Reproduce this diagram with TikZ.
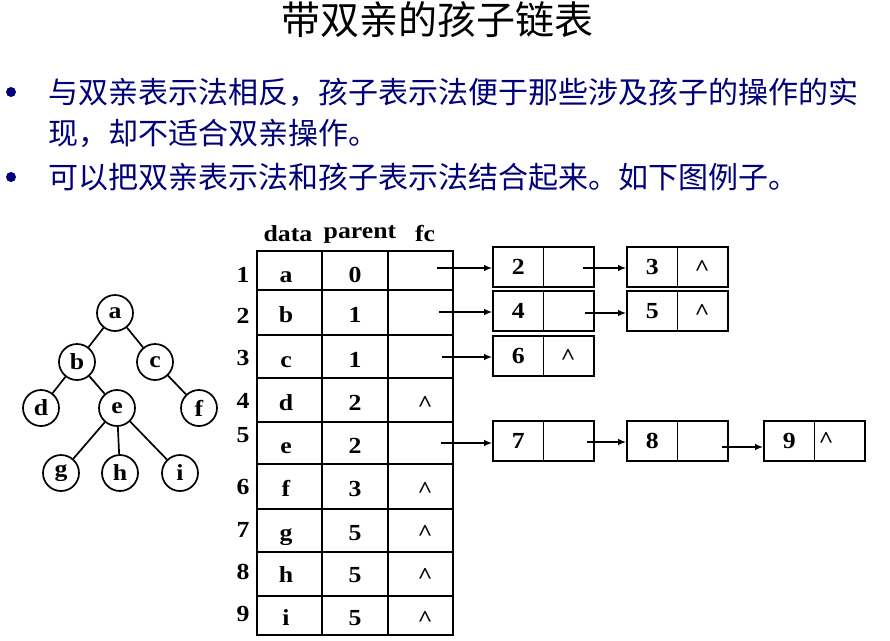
\documentclass[tikz,border=0pt]{standalone}
\usepackage{fontspec}
\setmainfont{Liberation Serif}
\newfontfamily\latf[FakeStretch=1.12]{Liberation Serif}
\newfontfamily\cjk{Noto Sans CJK SC}
\usetikzlibrary{arrows.meta}
\definecolor{navy}{RGB}{0,0,120}
\begin{document}
\begin{tikzpicture}[x=1pt,y=-1pt,
  lat/.style={font=\latf\fontsize{23}{25}\selectfont\bfseries, inner sep=0pt},
  cell/.style={draw, line width=1.8pt, inner sep=0pt},
  tnode/.style={circle, draw, line width=1.7pt, minimum size=36pt, inner sep=0pt, font=\latf\fontsize{23}{25}\selectfont\bfseries},
  tedge/.style={line width=1.7pt},
  lbox/.style={draw, line width=1.8pt, minimum width=50.5pt, minimum height=40pt, inner sep=0pt, font=\latf\fontsize{23}{25}\selectfont\bfseries},
  ptr/.style={line width=1.4pt, -{Latex[length=8pt,width=6.5pt]}},
  cjktext/.style={font=\cjk\fontsize{30}{32}\selectfont, text=navy, inner sep=0pt, anchor=west},
  bullet/.style={circle, fill=navy, minimum size=10pt, inner sep=0pt}
]
\useasboundingbox (0,0) rectangle (890,640);

% title
\node[font=\cjk\fontsize{39}{41}\selectfont, inner sep=0pt] (title) at (437,20) {带双亲的孩子链表};

% bullets
\node[bullet] (b1) at (11,92) {};
\node[cjktext] (l1) at (48,92) {与双亲表示法相反，孩子表示法便于那些涉及孩子的操作的实};
\node[cjktext] (l2) at (48,133) {现，却不适合双亲操作。};
\node[bullet] (b2) at (11,177) {};
\node[cjktext] (l3) at (48,177) {可以把双亲表示法和孩子表示法结合起来。如下图例子。};

% tree
\node[tnode] (ta) at (115,313) {a};
\node[tnode] (tb) at (77,362) {b};
\node[tnode] (tc) at (155,362) {c};
\node[tnode] (td) at (41,408) {d};
\node[tnode] (te) at (117,408) {e};
\node[tnode] (tf) at (199,408) {f};
\node[tnode] (tg) at (61,473) {g};
\node[tnode] (th) at (120,473) {h};
\node[tnode] (ti) at (180,473) {i};
\draw[tedge] (ta) -- (tb);
\draw[tedge] (ta) -- (tc);
\draw[tedge] (tb) -- (td);
\draw[tedge] (tb) -- (te);
\draw[tedge] (tc) -- (tf);
\draw[tedge] (te) -- (tg);
\draw[tedge] (te) -- (th);
\draw[tedge] (te) -- (ti);

% table header
\node[lat, anchor=base] (hdata) at (288,241) {data};
\node[lat, anchor=base] (hparent) at (360,238) {parent};
\node[lat, anchor=base] (hfc) at (425,241) {fc};

% table rows
\foreach \r/\ya/\yb/\bl/\nb/\dd/\pp in {
1/251/290/282/282/a/0,
2/290/335/322/323/b/1,
3/335/378/367/365/c/1,
4/378/422/410/408/d/2,
5/422/464/453/442/e/2,
6/464/509/496/494/f/3,
7/509/552/540/537/g/5,
8/552/596/582/579/h/5,
9/596/635/625/621/i/5}{
  \node[cell, minimum width=65pt, minimum height={(\yb-\ya)*1pt}] (cd\r) at (289.5,{(\ya+\yb)/2}) {};
  \node[cell, minimum width=66pt, minimum height={(\yb-\ya)*1pt}] (cp\r) at (355,{(\ya+\yb)/2}) {};
  \node[cell, minimum width=65pt, minimum height={(\yb-\ya)*1pt}] (cf\r) at (420.5,{(\ya+\yb)/2}) {};
  \node[lat, anchor=base] (n\r) at (243,\nb) {\r};
  \node[lat, anchor=base] (d\r) at (286,\bl) {\dd};
  \node[lat, anchor=base] (p\r) at (355,\bl) {\pp};
}
\foreach \r/\bl in {4/411,6/497,7/540,8/583,9/626}{
  \node[lat, anchor=base] (f\r) at (425,\bl) {\textasciicircum};
}

% linked list nodes
\node[lbox] (n2a) at (518.25,267) {2};
\node[lbox] (n2b) at (568.75,267) {};
\node[lbox] (n3a) at (652.25,267) {3};
\node[lbox] (n3b) at (702.75,267) {};
\node[lat, anchor=base] (n3c) at (702,275) {\textasciicircum};

\node[lbox] (n4a) at (518.25,311) {4};
\node[lbox] (n4b) at (568.75,311) {};
\node[lbox] (n5a) at (652.25,311) {5};
\node[lbox] (n5b) at (702.75,311) {};
\node[lat, anchor=base] (n5c) at (702,319) {\textasciicircum};

\node[lbox] (n6a) at (518.25,356) {6};
\node[lbox] (n6b) at (568.75,356) {};
\node[lat, anchor=base] (n6c) at (568,364) {\textasciicircum};

\node[lbox] (n7a) at (518.25,441) {7};
\node[lbox] (n7b) at (568.75,441) {};
\node[lbox] (n8a) at (652.25,441) {8};
\node[lbox] (n8b) at (702.75,441) {};
\node[lbox] (n9a) at (789.25,441) {9};
\node[lbox] (n9b) at (839.75,441) {};
\node[lat, anchor=base] (n9c) at (826,447) {\textasciicircum};

% pointer start points
\coordinate (s1) at (437,268);
\coordinate (s2) at (439,312);
\coordinate (s3) at (442,357);
\coordinate (s5) at (441,443);
\coordinate (s2n) at (583,268);
\coordinate (s4n) at (585,313);
\coordinate (s7n) at (587,442);
\coordinate (s8n) at (722,447);

\draw[ptr] (s1) -- (s1 -| n2a.west);
\draw[ptr] (s2) -- (s2 -| n4a.west);
\draw[ptr] (s3) -- (s3 -| n6a.west);
\draw[ptr] (s5) -- (s5 -| n7a.west);
\draw[ptr] (s2n) -- (s2n -| n3a.west);
\draw[ptr] (s4n) -- (s4n -| n5a.west);
\draw[ptr] (s7n) -- (s7n -| n8a.west);
\draw[ptr] (s8n) -- (s8n -| n9a.west);
\end{tikzpicture}
\end{document}
